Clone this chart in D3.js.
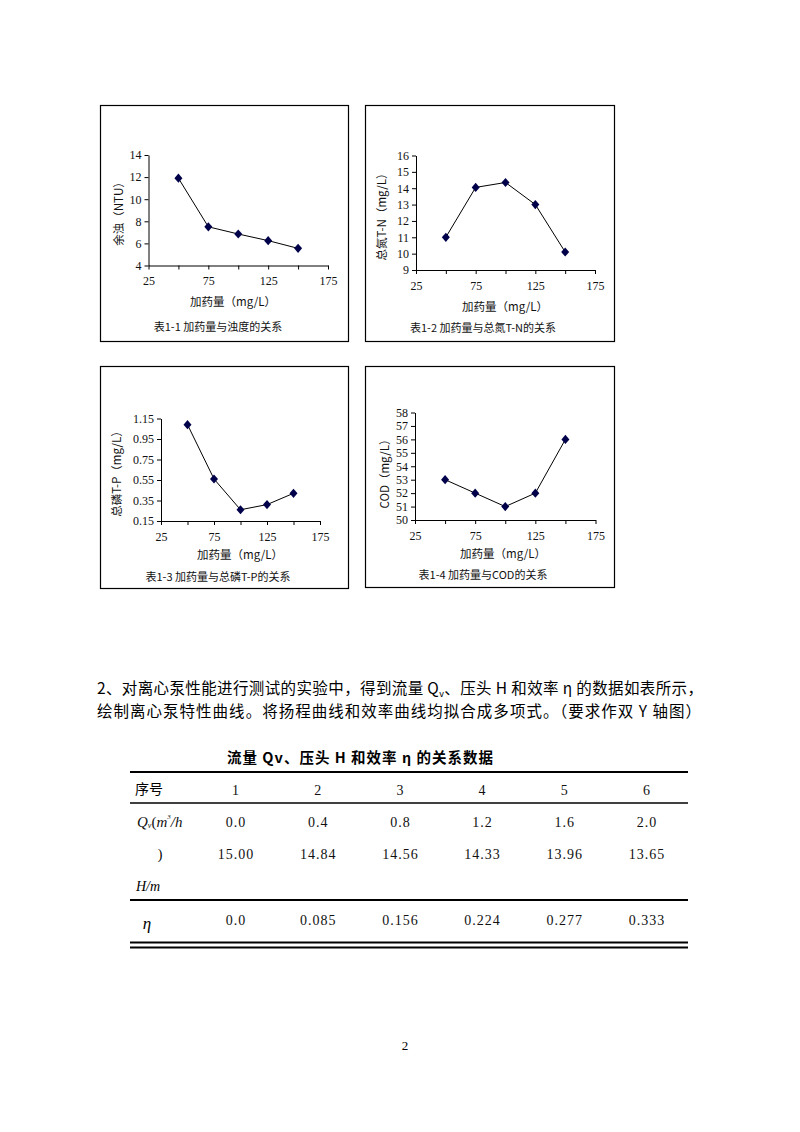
<!DOCTYPE html>
<html><head><meta charset="utf-8">
<script src="https://cdn.jsdelivr.net/npm/d3@7"></script>
<style>
body{margin:0;background:#fff;}
svg{display:block;}
</style></head><body>
<script>
// ---- data ----
const doses = [50, 75, 100, 125, 150];
const turbidity = [11.9, 7.5, 6.85, 6.25, 5.55];
const totalN = [11.0, 14.05, 14.35, 13.0, 10.1];
const totalP = [1.09, 0.56, 0.26, 0.31, 0.42];
const cod = [53, 52, 51, 52, 56];
const xTicks = [25, 50, 75, 100, 125, 150, 175];
const xLabelTicks = [25, 75, 125, 175];
const yTicks1 = [4, 6, 8, 10, 12, 14];
const yTicks2 = [9, 10, 11, 12, 13, 14, 15, 16];
const yTicks3 = [0.15, 0.35, 0.55, 0.75, 0.95, 1.15];
const yTicks4 = [50, 51, 52, 53, 54, 55, 56, 57, 58];

const tableHeader = ["1", "2", "3", "4", "5", "6"];
const flowQv = ["0.0", "0.4", "0.8", "1.2", "1.6", "2.0"];
const headH = ["15.00", "14.84", "14.56", "14.33", "13.96", "13.65"];
const effEta = ["0.0", "0.085", "0.156", "0.224", "0.277", "0.333"];

const W = 800, H = 1132;
const svg = d3.select("body").append("svg").attr("width", W).attr("height", H);
svg.append("rect").attr("width", W).attr("height", H).attr("fill", "#fff");

const CJK = "'Noto Sans CJK SC', sans-serif";
const SERIF = "'Liberation Serif', 'DejaVu Serif', serif";

const diamond = {
  draw(ctx, size) {
    const w = 4, h = 4.6;
    ctx.moveTo(0, -h); ctx.lineTo(w, 0); ctx.lineTo(0, h); ctx.lineTo(-w, 0); ctx.closePath();
  }
};

function chart(cfg) {
  const g = svg.append("g");
  g.append("rect").attr("x", cfg.frame[0] + 0.5).attr("y", cfg.frame[1] + 0.5)
    .attr("width", cfg.frame[2]).attr("height", cfg.frame[3])
    .attr("fill", "#fff").attr("stroke", "#000").attr("stroke-width", 1.2);
  const x = d3.scaleLinear().domain([25, 175]).range([cfg.x0, cfg.x1]);
  const y = d3.scaleLinear().domain(cfg.yDomain).range([cfg.yBottom, cfg.yTop]);

  const ya = g.append("g").attr("transform", `translate(${cfg.x0},0)`)
    .call(d3.axisLeft(y).tickValues(cfg.yTicks).tickSize(4).tickSizeOuter(0).tickFormat(cfg.yFmt));
  const xa = g.append("g").attr("transform", `translate(0,${cfg.yBottom})`)
    .call(d3.axisBottom(x).tickValues(xTicks).tickSize(4).tickSizeOuter(0)
      .tickFormat(d => xLabelTicks.includes(d) ? d : ""));
  [ya, xa].forEach(a => {
    a.attr("font-family", SERIF).attr("font-size", 12);
    a.select(".domain").attr("stroke", "#000").attr("stroke-width", 1);
    a.selectAll(".tick line").attr("stroke", "#000");
    a.selectAll("text").attr("font-family", SERIF).attr("font-size", 12).attr("fill", "#111");
  });
  ya.selectAll("text").attr("x", -7);
  xa.selectAll("text").attr("y", 11);

  const line = d3.line().x((d, i) => x(doses[i])).y(d => y(d));
  g.append("path").datum(cfg.values).attr("d", line)
    .attr("fill", "none").attr("stroke", "#000").attr("stroke-width", 1);
  g.selectAll(".pt").data(cfg.values).enter().append("path")
    .attr("d", d3.symbol(diamond))
    .attr("transform", (d, i) => `translate(${x(doses[i])},${y(d)})`)
    .attr("fill", "#00004a");

  g.append("text").attr("x", cfg.xTitle[0]).attr("y", cfg.xTitle[1])
    .attr("text-anchor", "middle").attr("dominant-baseline", "central")
    .attr("font-family", CJK).attr("font-size", 11.5).attr("fill", "#111").text("加药量（mg/L）");
  g.append("text").attr("transform", `translate(${cfg.yTitle[0]},${cfg.yTitle[1]}) rotate(-90)`)
    .attr("text-anchor", "middle").attr("dominant-baseline", "central")
    .attr("font-family", CJK).attr("font-size", 11.5).attr("fill", "#111").text(cfg.yTitleText);
  g.append("text").attr("x", cfg.caption[0]).attr("y", cfg.caption[1])
    .attr("text-anchor", "middle").attr("dominant-baseline", "central")
    .attr("font-family", CJK).attr("font-size", 11).attr("fill", "#111").text(cfg.captionText);
}

chart({ frame: [100, 105, 248, 236], x0: 148.5, x1: 328, yTop: 155, yBottom: 265.5,
  yDomain: [4, 14], yTicks: yTicks1, yFmt: d3.format("d"), values: turbidity,
  xTitle: [233, 301], yTitle: [118, 211], yTitleText: "余浊（NTU）",
  caption: [218, 326], captionText: "表1-1  加药量与浊度的关系" });
chart({ frame: [365, 105, 249, 236], x0: 416, x1: 595, yTop: 155.5, yBottom: 270,
  yDomain: [9, 16], yTicks: yTicks2, yFmt: d3.format("d"), values: totalN,
  xTitle: [505, 306], yTitle: [381, 214], yTitleText: "总氮T-N（mg/L）",
  caption: [483, 327], captionText: "表1-2  加药量与总氮T-N的关系" });
chart({ frame: [100, 366, 248, 222], x0: 161, x1: 320, yTop: 418.5, yBottom: 521,
  yDomain: [0.15, 1.15], yTicks: yTicks3, yFmt: d3.format(".2f"), values: totalP,
  xTitle: [240, 554], yTitle: [116, 471], yTitleText: "总磷T-P（mg/L）",
  caption: [218, 575.5], captionText: "表1-3  加药量与总磷T-P的关系" });
chart({ frame: [365, 366, 249, 221], x0: 415, x1: 595.5, yTop: 412.5, yBottom: 520,
  yDomain: [50, 58], yTicks: yTicks4, yFmt: d3.format("d"), values: cod,
  xTitle: [503, 552.5], yTitle: [384, 471], yTitleText: "COD（mg/L）",
  caption: [483, 574], captionText: "表1-4  加药量与COD的关系" });

// ---- paragraph ----
const p1 = svg.append("text").attr("x", 97).attr("y", 694).attr("font-family", CJK)
  .attr("font-size", 15.5).attr("fill", "#000");
p1.append("tspan").text("2、对离心泵性能进行测试的实验中，得到流量 Q");
p1.append("tspan").attr("font-size", 9).attr("dy", 3).text("v");
p1.append("tspan").attr("dy", -3).text("、压头 H 和效率 η 的数据如表所示，");
p1.attr("textLength", 606).attr("lengthAdjust", "spacing");
svg.append("text").attr("x", 97).attr("y", 717).attr("font-family", CJK)
  .attr("font-size", 15.5).attr("fill", "#000")
  .attr("textLength", 604).attr("lengthAdjust", "spacing")
  .text("绘制离心泵特性曲线。将扬程曲线和效率曲线均拟合成多项式。（要求作双 Y 轴图）");

// ---- table ----
svg.append("text").attr("x", 360).attr("y", 756).attr("text-anchor", "middle")
  .attr("dominant-baseline", "central").attr("font-family", CJK).attr("font-weight", "bold")
  .attr("font-size", 14.5).attr("textLength", 266).attr("lengthAdjust", "spacing")
  .text("流量 Qv、压头 H 和效率 η 的关系数据");

const colX = d3.scalePoint().domain(d3.range(6)).range([236, 647]);
const rules = [[772, 2], [803, 1.5], [900, 2], [942.5, 1.8], [947.5, 1.8]];
svg.selectAll(".rule").data(rules).enter().append("line")
  .attr("x1", 130).attr("x2", 688).attr("y1", d => d[0]).attr("y2", d => d[0])
  .attr("stroke", "#000").attr("stroke-width", d => d[1]);

function row(vals, yy, font, size) {
  svg.append("g").selectAll("text").data(vals).enter().append("text")
    .attr("x", (d, i) => colX(i)).attr("y", yy).attr("text-anchor", "middle")
    .attr("dominant-baseline", "central").attr("font-family", font).attr("font-size", size)
    .attr("letter-spacing", 1).attr("fill", "#111").text(d => d);
}
row(tableHeader, 790, SERIF, 14);
row(flowQv, 822, SERIF, 14);
row(headH, 854, SERIF, 14);
row(effEta, 920, SERIF, 14);

svg.append("text").attr("x", 149).attr("y", 788).attr("text-anchor", "middle")
  .attr("dominant-baseline", "central").attr("font-family", CJK).attr("font-size", 14).text("序号");
const ql = svg.append("text").attr("x", 137).attr("y", 822).attr("dominant-baseline", "central")
  .attr("font-family", SERIF).attr("font-style", "italic").attr("font-size", 15).attr("fill", "#111");
ql.append("tspan").text("Q");
ql.append("tspan").attr("font-size", 8).attr("dy", 3).text("v");
ql.append("tspan").attr("dy", -3).attr("font-style", "normal").text("(");
ql.append("tspan").text("m");
ql.append("tspan").attr("font-size", 7).attr("dy", -5).text("3");
ql.append("tspan").attr("dy", 5).text("/h");
svg.append("text").attr("x", 160).attr("y", 854).attr("text-anchor", "middle")
  .attr("dominant-baseline", "central").attr("font-family", SERIF).attr("font-size", 14).text(")");
svg.append("text").attr("x", 148).attr("y", 886).attr("text-anchor", "middle")
  .attr("dominant-baseline", "central").attr("font-family", SERIF).attr("font-style", "italic")
  .attr("font-size", 14).text("H/m");
svg.append("text").attr("x", 147).attr("y", 923).attr("text-anchor", "middle")
  .attr("dominant-baseline", "central").attr("font-family", SERIF).attr("font-style", "italic")
  .attr("font-size", 17).text("η");

svg.append("text").attr("x", 405).attr("y", 1045).attr("text-anchor", "middle")
  .attr("dominant-baseline", "central").attr("font-family", SERIF).attr("font-size", 13).text("2");
</script>
</body></html>
